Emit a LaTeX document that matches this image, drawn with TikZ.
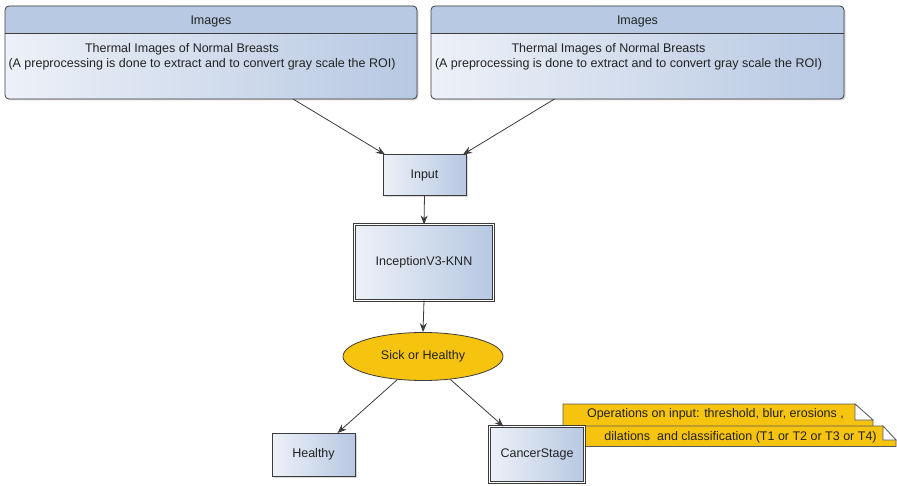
\documentclass[tikz,border=0pt]{standalone}
\usepackage{fontspec}
\setmainfont{Liberation Sans}
\usetikzlibrary{shadows,arrows.meta,calc,shapes.geometric}
\definecolor{boxL}{HTML}{EDF1F8}
\definecolor{boxR}{HTML}{B7C8E2}
\definecolor{hdr}{HTML}{B8CAE3}
\definecolor{edge}{HTML}{3C3C3C}
\definecolor{txt}{HTML}{222222}
\definecolor{gold}{HTML}{F6C40F}
\begin{document}
\begin{tikzpicture}[x=1pt,y=-1pt,
  font=\fontsize{12.5}{15}\selectfont, text=txt,
  bluebox/.style={rectangle, draw=edge, line width=0.8pt, left color=boxL, right color=boxR,
    drop shadow={shadow xshift=1.5pt, shadow yshift=-1.5pt, opacity=0.3},
    inner sep=0pt, outer sep=0pt},
  dblbox/.style={bluebox, double=white, double distance=1.6pt},
  arr/.style={draw=edge, line width=0.8pt, -{Stealth[length=9pt,width=7pt]}},
  notefill/.style={fill=gold, draw=edge!85, line width=0.7pt},
  fold/.style={fill=white, draw=edge!85, line width=0.7pt}]
\useasboundingbox (0,0) rectangle (897,486);
\fill[white] (0,0) rectangle (897,486);

% Images boxes
\foreach \nm/\cx/\w in {img1/211/412, img2/637.5/413}{
  \node[bluebox, draw=none, rounded corners=4pt, minimum width=\w pt, minimum height=93pt] (\nm) at (\cx,52.5) {};
  \fill[hdr] ($(\nm.north west)+(0,27)$) [rounded corners=4pt] -- (\nm.north west) -- (\nm.north east) [sharp corners] -- ($(\nm.north east)+(0,27)$) -- cycle;
  \draw[edge, line width=0.8pt] ($(\nm.north west)+(0,27)$) -- ($(\nm.north east)+(0,27)$);
  \draw[edge, line width=0.8pt, rounded corners=4pt] (\nm.north west) rectangle (\nm.south east);
  \node (\nm-h) at ($(\nm.north)+(0,15.5)$) {Images};
  \node[align=center, inner sep=0pt] (\nm-b) at ($(\nm.north)+(-9,51)$)
    {Thermal Images of Normal Breasts\hspace*{40pt}\mbox{}\\(A preprocessing is done to extract and to convert gray scale the ROI)};
}

% main flow
\node[bluebox, minimum width=83pt, minimum height=41pt] (input) at (424.5,175) {Input};
\node[dblbox, minimum width=139pt, minimum height=76pt] (incep) at (424,262.5) {InceptionV3-KNN};
\node[ellipse, draw=edge, line width=0.8pt, fill=gold, minimum width=160pt, minimum height=48pt, inner sep=0pt] (sick) at (423,356.5) {Sick or Healthy};
\node[bluebox, minimum width=83pt, minimum height=43pt] (healthy) at (313.5,454.5) {Healthy};

% notes
\path[notefill] (563,404) -- (855,404) -- (873,420) -- (873,427) -- (563,427) -- cycle;
\path[fold] (855,404) -- (855,420) -- (873,420) -- cycle;
\node (n1) at (715.5,414) {Operations on input: threshold, blur, erosions ,};
\path[notefill] (584,426) -- (883,426) -- (896,440) -- (896,446.5) -- (584,446.5) -- cycle;
\path[fold] (883,426) -- (883,440) -- (896,440) -- cycle;
\node (n2) at (740.5,437.5) {dilations\ \ and classification (T1 or T2 or T3 or T4)};

\node[dblbox, minimum width=95pt, minimum height=56pt] (cancer) at (537,454.5) {CancerStage};

% connectors
\draw[arr] ($(img1.south)+(82,0)$) -- ($(input.north west)+(2,0)$);
\draw[arr] ($(img2.south)+(-83,0)$) -- ($(input.north east)+(-3,0)$);
\draw[arr] (input.south) -- (incep.north);
\draw[arr] (incep.south) -- (sick.north);
\draw[arr] (sick.222) -- ($(healthy.north)+(24,0)$);
\draw[arr] (sick.320) -- ($(cancer.north west)+(14,0)$);
\end{tikzpicture}
\end{document}
